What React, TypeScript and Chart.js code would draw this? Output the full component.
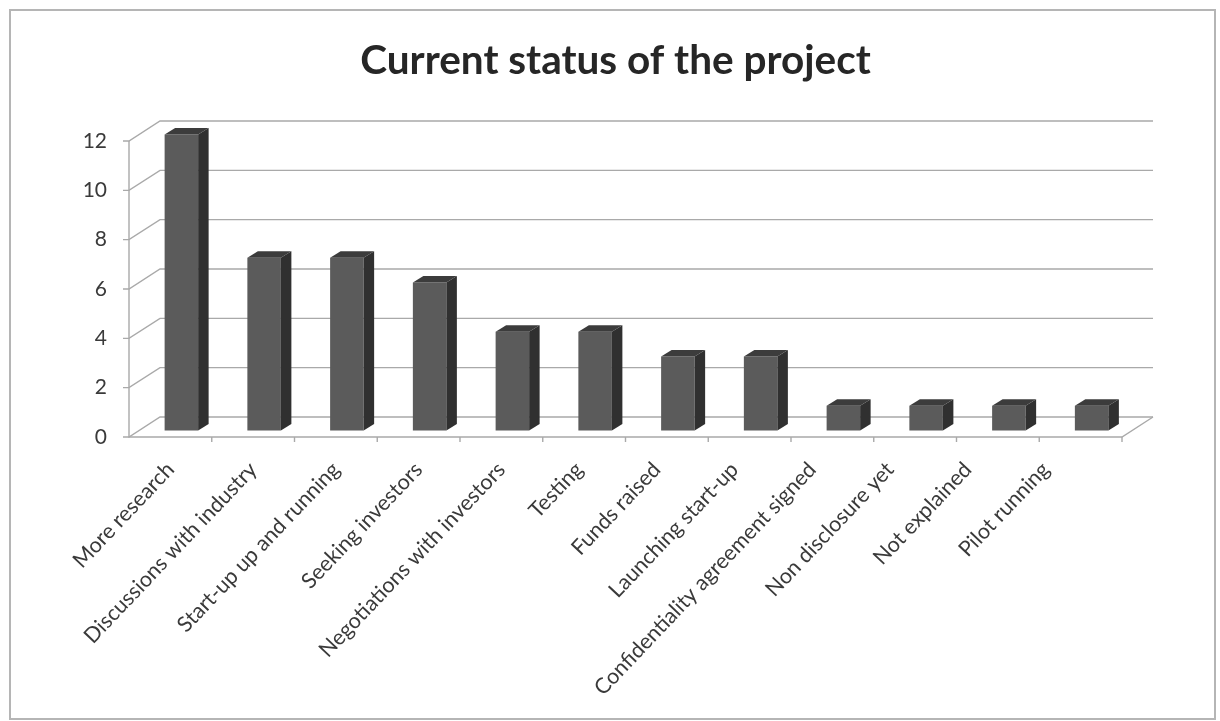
import React, { useEffect, useRef } from "react";
import { Chart, registerables } from "chart.js";

Chart.register(...registerables);

const categories = [
  "More research",
  "Discussions with industry",
  "Start-up up and running",
  "Seeking investors",
  "Negotiations with investors",
  "Testing",
  "Funds raised",
  "Launching start-up",
  "Confidentiality agreement signed",
  "Non disclosure yet",
  "Not explained",
  "Pilot running",
];
const projectCounts = [12, 7, 7, 6, 4, 4, 3, 3, 1, 1, 1, 1];
const chartTitle = "Current status of the project";

const GRID = "#a9a9a9";
const INK = "#3a3a3a";
const FRONT = "#5b5b5b";
const SIDE = "#303030";
const TOP = "#3c3c3c";
const WALL_DX = 31;
const WALL_DY = -20;
const BAR_DX = 11;
const BAR_DY = -6.5;
const DEPTH_X = 10.5;
const DEPTH_Y = -6.5;
const LABEL_DRIFT = 5;

const frame3d = {
  id: "frame3d",
  beforeDraw(chart: any) {
    const c = chart.ctx;
    c.save();
    c.fillStyle = "#ffffff";
    c.fillRect(0, 0, chart.width, chart.height);
    c.strokeStyle = "#b5b5b5";
    c.lineWidth = 2;
    c.strokeRect(10, 10, 1205, 709);
    c.restore();
    chart.scales.x.getLabelItems().forEach((item: any, i: number) => {
      if (!item.drifted) {
        item.options.translation[0] -= LABEL_DRIFT * Math.max(0, i - 4);
        item.drifted = true;
      }
    });
  },
  beforeDatasetsDraw(chart: any) {
    const c = chart.ctx;
    const { x, y } = chart.scales;
    const l = x.left;
    const r = x.right;
    c.save();
    c.strokeStyle = GRID;
    c.lineWidth = 1.4;
    y.ticks.forEach((t: any) => {
      const py = y.getPixelForValue(t.value);
      c.beginPath();
      c.moveTo(l - 6, py);
      c.lineTo(l, py);
      c.lineTo(l + WALL_DX, py + WALL_DY);
      c.lineTo(r + WALL_DX, py + WALL_DY);
      c.stroke();
    });
    const by = y.getPixelForValue(0);
    c.beginPath();
    c.moveTo(l, y.getPixelForValue(y.max));
    c.lineTo(l, by);
    c.lineTo(r, by);
    c.lineTo(r + WALL_DX, by + WALL_DY);
    c.stroke();
    categories.forEach((_, i) => {
      const px = l + ((r - l) * (i + 1)) / categories.length;
      c.beginPath();
      c.moveTo(px, by);
      c.lineTo(px, by + 5);
      c.stroke();
    });
    c.restore();
  },
  beforeDatasetDraw(chart: any) {
    chart.ctx.save();
    chart.ctx.translate(BAR_DX, BAR_DY);
  },
  afterDatasetDraw(chart: any, args: any) {
    const c = chart.ctx;
    chart.getDatasetMeta(args.index).data.forEach((bar: any) => {
      const p = bar.getProps(["x", "y", "base", "width"], true);
      const left = p.x - p.width / 2;
      const right = p.x + p.width / 2;
      c.fillStyle = SIDE;
      c.beginPath();
      c.moveTo(right, p.base);
      c.lineTo(right + DEPTH_X, p.base + DEPTH_Y);
      c.lineTo(right + DEPTH_X, p.y + DEPTH_Y);
      c.lineTo(right, p.y);
      c.closePath();
      c.fill();
      c.fillStyle = TOP;
      c.beginPath();
      c.moveTo(left, p.y);
      c.lineTo(left + DEPTH_X, p.y + DEPTH_Y);
      c.lineTo(right + DEPTH_X, p.y + DEPTH_Y);
      c.lineTo(right, p.y);
      c.closePath();
      c.fill();
    });
    c.restore();
  },
};

export default function App() {
  const ref = useRef<HTMLCanvasElement>(null);
  useEffect(() => {
    const chart = new Chart(ref.current as HTMLCanvasElement, {
      type: "bar",
      data: {
        labels: categories,
        datasets: [
          {
            data: projectCounts,
            backgroundColor: FRONT,
            borderWidth: 0,
            barPercentage: 0.405,
            categoryPercentage: 1,
            clip: false,
          } as any,
        ],
      },
      plugins: [frame3d],
      options: {
        responsive: false,
        animation: false,
        layout: { padding: { left: 11, top: 37, right: 0, bottom: 0 } },
        plugins: {
          legend: { display: false },
          tooltip: { enabled: false },
          title: {
            display: true,
            text: chartTitle,
            color: "#262626",
            font: { family: "Lato", size: 40.5, weight: "bold" },
            padding: { top: 0, bottom: 55.4 },
          },
        },
        scales: {
          x: {
            grid: { display: false },
            border: { display: false },
            ticks: {
              color: INK,
              autoSkip: false,
              maxRotation: 46.5,
              minRotation: 46.5,
              font: { family: "Lato", size: 21.5 },
              padding: 12,
            },
            afterFit(s: any) {
              s.height = 284;
              s.paddingLeft = 0;
              s.paddingRight = 0;
            },
          },
          y: {
            min: 0,
            max: 12,
            grid: { display: false },
            border: { display: false },
            ticks: {
              stepSize: 2,
              color: INK,
              font: { family: "Lato", size: 21 },
              padding: 14,
            },
            afterFit(s: any) {
              s.width = 118;
            },
          },
          rightGutter: {
            position: "right",
            grid: { display: false },
            border: { display: false },
            ticks: { display: false },
            afterFit(s: any) {
              s.width = 98;
            },
          },
        },
      },
    } as any);
    return () => chart.destroy();
  }, []);
  return (
    <div style={{ position: "absolute", left: 0, top: 0, width: 1220, height: 721 }}>
      <canvas ref={ref} width={1220} height={721} style={{ display: "block" }} />
    </div>
  );
}
